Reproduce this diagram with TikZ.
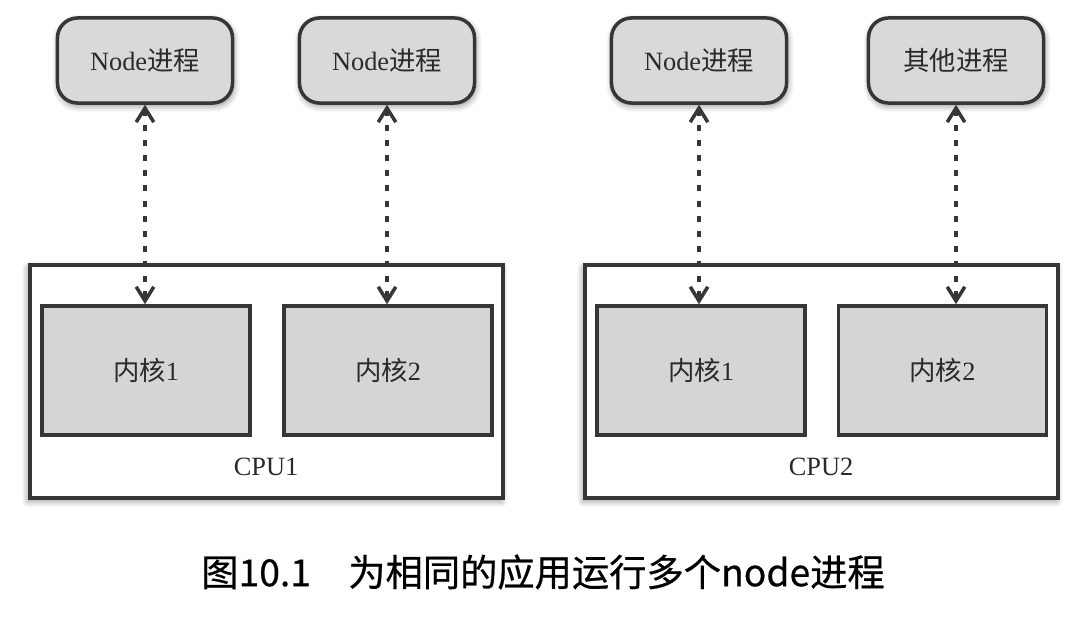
\documentclass[tikz,border=0pt]{standalone}
\usepackage{fontspec}
\setmainfont{Liberation Serif}
\newfontfamily\cjk{Noto Sans CJK SC}
\newfontfamily\cjkcap[FakeBold=0.6]{Noto Sans CJK SC}
\usepackage{tikz}
\usepackage{xcolor}
\usetikzlibrary{arrows.meta,shadows.blur}

\definecolor{boxgray}{HTML}{D9D9D9}
\definecolor{coregray}{HTML}{D5D5D5}
\definecolor{linegray}{HTML}{363636}
\definecolor{textgray}{HTML}{2A2A2A}

\tikzset{
    proc/.style={draw=linegray, line width=1pt, fill=boxgray, rounded corners=0.2cm,
        minimum width=1.75cm, minimum height=0.85cm, text=textgray,
        blur shadow={shadow xshift=0.3pt, shadow yshift=-0.8pt, shadow blur steps=8, shadow opacity=45},
        font=\fontsize{7.5pt}{9pt}\selectfont},
    cpubox/.style={draw=linegray, line width=1pt, fill=white,
        minimum width=4.73cm, minimum height=2.33cm,
        blur shadow={shadow xshift=-0.5pt, shadow yshift=-0.8pt, shadow blur steps=8, shadow opacity=45}},
    core/.style={draw=linegray, line width=1pt, fill=coregray,
        minimum width=2.08cm, minimum height=1.29cm, text=textgray,
        font=\fontsize{7.5pt}{9pt}\selectfont},
    lbl/.style={text=textgray, font=\fontsize{7.5pt}{9pt}\selectfont},
    link/.style={linegray, line width=1pt, dash pattern=on 1.7pt off 2.6pt,
        {Straight Barb[length=4pt,width=5pt]}-{Straight Barb[length=4pt,width=5pt]}}
}

\begin{document}
\begin{tikzpicture}[x=0.01cm, y=-0.01cm]
            \useasboundingbox (0,0) rectangle (1092,628);
            % processes
            \node[proc] (p1) at (145,60.5) {Node{\cjk 进程}};
            \node[proc] (p2) at (387,60.5) {Node{\cjk 进程}};
            \node[proc] (p3) at (699,60.5) {Node{\cjk 进程}};
            \node[proc] (p4) at (956,60.5) {{\cjk 其他进程}};
            % cpus and cores
            \node[cpubox] (cpu1) at (266.5,381.5) {};
            \node[cpubox] (cpu2) at (821.5,381.5) {};
            \node[core] (c11) at (146,370.5) {{\cjk 内核}1};
            \node[core] (c12) at (388,370.5) {{\cjk 内核}2};
            \node[core] (c21) at (701,370.5) {{\cjk 内核}1};
            \node[core] (c22) at (942.5,370.5) {{\cjk 内核}2};
            \node[lbl] (l1) at (266,467) {CPU1};
            \node[lbl] (l2) at (821,467) {CPU2};
            % links
            \draw[link] (p1.south) -- (p1.south |- c11.north);
            \draw[link] (p2.south) -- (p2.south |- c12.north);
            \draw[link] (p3.south) -- (p3.south |- c21.north);
            \draw[link] (p4.south) -- (p4.south |- c22.north);
            % caption
            \node[font=\cjkcap\fontsize{10.6pt}{12pt}\selectfont] (cap) at (543,572)
                {图10.1　为相同的应用运行多个node进程};
        \end{tikzpicture}
\end{document}
